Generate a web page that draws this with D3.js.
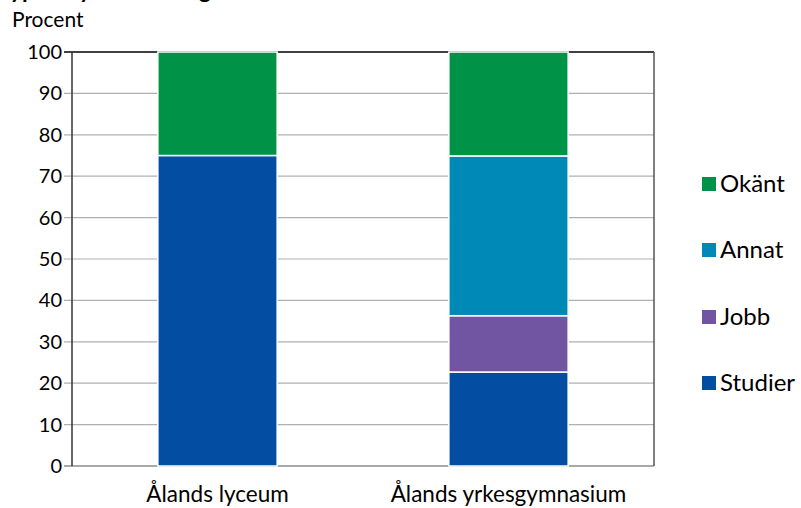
<!DOCTYPE html>
<html><head><meta charset="utf-8">
<script src="https://cdn.jsdelivr.net/npm/d3@7"></script>
<style>body{margin:0;background:#fff}svg{display:block}text{font-family:Lato,"Open Sans",sans-serif;fill:#000}</style>
</head><body>
<script>
const categories = ["Ålands lyceum", "Ålands yrkesgymnasium"];
const seriesNames = ["Studier", "Jobb", "Annat", "Okänt"];
const studier = [75, 22.7];
const jobb = [0, 13.6];
const annat = [0, 38.6];
const okant = [25, 25.1];
const yTicks = [0,10,20,30,40,50,60,70,80,90,100];
const colors = {"Studier":"#034EA2","Jobb":"#7155A3","Annat":"#0089B6","Okänt":"#009246"};

const W=801,H=508;
const svg=d3.select("body").append("svg").attr("width",W).attr("height",H);
const m={l:72,r:147,t:52,b:42};
const x=d3.scaleBand().domain(categories).range([m.l,W-m.r]).paddingInner(0.59).paddingOuter(0.295);
const y=d3.scaleLinear().domain([0,100]).range([H-m.b,m.t]);

svg.append("text").attr("x",-2).attr("y",-2).style("font-weight","bold").style("font-size","23px").text("Typ av sysselsättning");

// gridlines
svg.append("g").selectAll("line").data(yTicks).join("line")
  .attr("x1",64).attr("x2",W-m.r).attr("y1",d=>y(d)).attr("y2",d=>y(d))
  .attr("stroke",d=>d===100?"#000":(d===0?"#555":"#b0b0b0")).attr("stroke-width",d=>d===100?1.5:1.2);

const rows=categories.map((c,i)=>({cat:c,Studier:studier[i],Jobb:jobb[i],Annat:annat[i],"Okänt":okant[i]}));
const stack=d3.stack().keys(seriesNames)(rows);
svg.append("g").selectAll("g").data(stack).join("g").attr("fill",d=>colors[d.key])
  .selectAll("rect").data(d=>d.filter(p=>p[1]-p[0]>0)).join("rect")
  .attr("x",d=>x(d.data.cat)).attr("width",x.bandwidth())
  .attr("y",d=>y(d[1])).attr("height",d=>y(d[0])-y(d[1]))
  .attr("stroke","#fff").attr("stroke-width",1.5);

// frame
svg.append("line").attr("x1",m.l).attr("x2",m.l).attr("y1",y(100)).attr("y2",y(0)).attr("stroke","#333").attr("stroke-width",1.5);
svg.append("line").attr("x1",W-m.r).attr("x2",W-m.r).attr("y1",y(100)).attr("y2",y(0)).attr("stroke","#555").attr("stroke-width",1.5);

const ya=d3.axisLeft(y).tickValues(yTicks).tickSize(0).tickPadding(2);
const gy=svg.append("g").attr("transform",`translate(${m.l-8},0)`).call(ya);
gy.select(".domain").remove();
gy.selectAll("text").style("font-size","20px").style("font-family","Lato,sans-serif").attr("fill","#000");

const xa=d3.axisBottom(x).tickSize(0).tickPadding(20);
const gx=svg.append("g").attr("transform",`translate(0,${y(0)})`).call(xa);
gx.select(".domain").remove();
gx.selectAll("text").style("font-size","22.5px").style("font-family","Lato,sans-serif").attr("fill","#000");

svg.append("text").attr("x",12).attr("y",27).style("font-size","21px").text("Procent");

const legendY={"Okänt":184,"Annat":250,"Jobb":317,"Studier":383};
const lg=svg.append("g").selectAll("g").data(seriesNames).join("g").attr("transform",d=>`translate(702,${legendY[d]})`);
lg.append("rect").attr("x",0).attr("y",-7).attr("width",14).attr("height",14).attr("fill",d=>colors[d]);
lg.append("text").attr("x",18).attr("y",8).style("font-size","24px").text(d=>d);
</script>
</body></html>
